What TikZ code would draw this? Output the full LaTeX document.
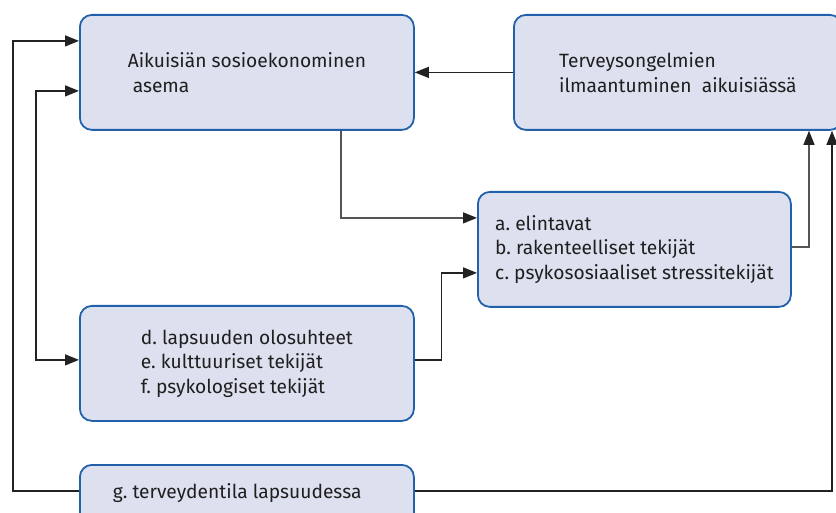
\documentclass[tikz,border=0pt]{standalone}
\usepackage{fontspec}
\setmainfont{Fira Sans}
\frenchspacing
\usetikzlibrary{arrows.meta,calc}
\definecolor{boxfill}{HTML}{DDE1EF}
\definecolor{boxline}{HTML}{2161AB}
\definecolor{linecol}{HTML}{222222}
\definecolor{graycol}{HTML}{555555}
\tikzset{
  boxnode/.style={draw=boxline, fill=boxfill, line width=1.8pt, rounded corners=12pt,
    anchor=north west, minimum height=115pt, align=left,
    font=\fontsize{19.2}{24.5}\selectfont\frenchspacing, text=black!88},
  conn/.style={draw=linecol, line width=1.3pt, -{Triangle[length=14pt,width=11pt]}},
  conngray/.style={conn, draw=graycol, -{Triangle[length=14pt,width=11pt,color=linecol]}},
  conn2/.style={draw=linecol, line width=1.3pt, {Triangle[length=14pt,width=11pt]}-{Triangle[length=14pt,width=11pt]}},
}
\begin{document}
\begin{tikzpicture}[x=1pt,y=-1pt]
\useasboundingbox (0,0) rectangle (836,513);
\clip (0,0) rectangle (836,513);
\node[boxnode, minimum width=334pt] (a) at (79,14)
  {Aikuisiän sosioekonominen\\\hspace{5pt}asema};
\node[boxnode, minimum width=328pt] (t) at (513,14)
  {Terveysongelmien\\ilmaantuminen\ \ aikuisiässä};
\node[boxnode, minimum width=313pt] (abc) at (477,191)
  {a. elintavat\\b. rakenteelliset tekijät\\c. psykososiaaliset stressitekijät};
\node[boxnode, minimum width=334pt] (def) at (79,305)
  {d. lapsuuden olosuhteet\\e. kulttuuriset tekijät\\f. psykologiset tekijät};
\node[boxnode, align=none, inner xsep=33pt, inner ysep=0pt, text height=34pt, text depth=81pt,
  minimum width=334pt, text width=268pt] (g) at (79,464)
  {g. terveydentila lapsuudessa};
% connectors
\draw[conn] ([yshift=-27pt]g.north west) -- ++(-66,0) |- ([yshift=31.5pt]a.west);
\draw[conn2] ([yshift=-18.5pt]a.west) -- ++(-43,0) |- ([yshift=3.5pt]def.west);
\draw[conn] (t.west) -- (a.east);
\draw[conngray] ([xshift=94pt]a.south) |- ([yshift=31.5pt]abc.west);
\draw[conn] ([yshift=3.5pt]def.east) -- ++(27,0) |- ([yshift=-23.5pt]abc.west);
\draw[conngray] ([yshift=2.5pt]abc.east) -| ([xshift=296pt]t.south west);
\draw[conn] ([yshift=-27pt]g.north east) -| ([xshift=319pt]t.south west);
\end{tikzpicture}
\end{document}
